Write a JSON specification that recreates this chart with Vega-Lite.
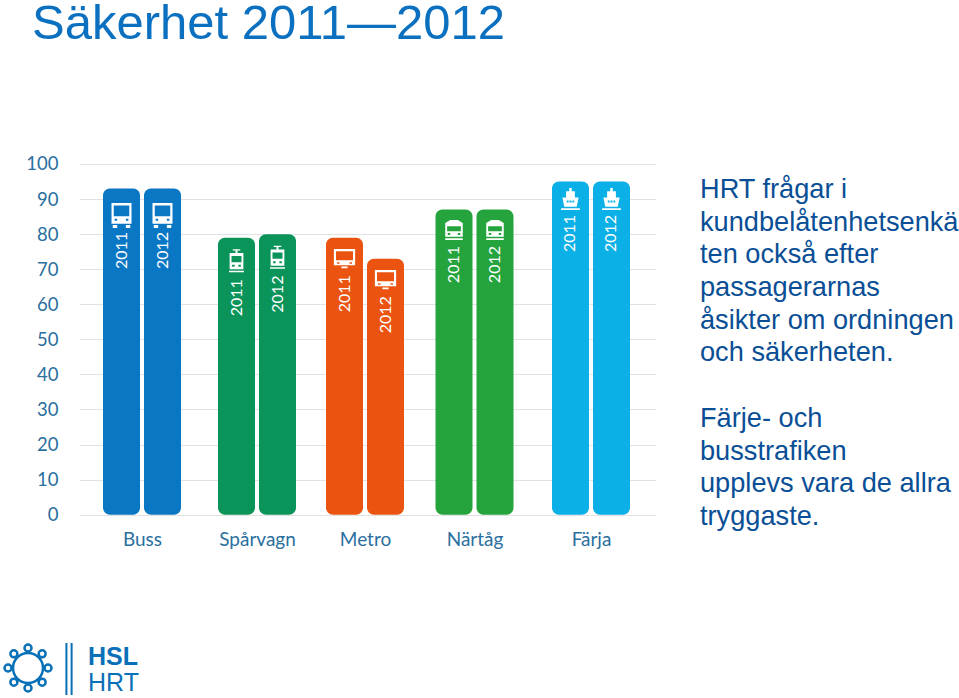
{
"$schema":"https://vega.github.io/schema/vega-lite/v6.json",
"width":576,"height":350.7,
"autosize":{"type":"none"},
"padding":{"left":80,"top":164,"right":303,"bottom":183},
"background":"white",
"title":{"text":"Säkerhet 2011—2012","anchor":"start","frame":"group","dx":-48,"offset":67,"baseline":"alphabetic","font":"Liberation Sans","fontSize":49,"fontWeight":"normal","color":"#0a70bf"},
"config":{"view":{"stroke":null}},
"data":{"values":[
{"trafikslag":"Buss","nr":1,"ar":"2011","andel":93},
{"trafikslag":"Buss","nr":1,"ar":"2012","andel":93},
{"trafikslag":"Spårvagn","nr":2,"ar":"2011","andel":79},
{"trafikslag":"Spårvagn","nr":2,"ar":"2012","andel":80},
{"trafikslag":"Metro","nr":3,"ar":"2011","andel":79},
{"trafikslag":"Metro","nr":3,"ar":"2012","andel":73},
{"trafikslag":"Närtåg","nr":4,"ar":"2011","andel":87},
{"trafikslag":"Närtåg","nr":4,"ar":"2012","andel":87},
{"trafikslag":"Färja","nr":5,"ar":"2011","andel":95},
{"trafikslag":"Färja","nr":5,"ar":"2012","andel":95}
]},
"encoding":{
"x":{"field":"nr","type":"quantitative","scale":{"domain":[0,1,2,3,4,5,6],"range":[0,62,177,285,394.5,511,576],"padding":0},"axis":{"values":[1,2,3,4,5],"title":null,"grid":false,"domain":false,"ticks":false,"labelPadding":16,"labelFont":"Lato","labelFontSize":19,"labelColor":"#2a6f9e","labelExpr":"['Buss','Spårvagn','Metro','Närtåg','Färja'][datum.value-1]"}},
"y":{"field":"andel","type":"quantitative","stack":null,"scale":{"domain":[0,100]},"axis":{"values":[0,10,20,30,40,50,60,70,80,90,100],"title":null,"domain":false,"ticks":false,"labelPadding":22,"labelFont":"Lato","labelFontSize":18.5,"labelColor":"#2a6f9e","grid":true,"gridColor":"#c4c4c4","gridDash":[1,1],"gridWidth":1}}
},
"layer":[
{"mark":{"type":"bar","size":37,"cornerRadius":7,"xOffset":{"expr":"datum.ar=='2011'?-20.5:20.5"}},
 "encoding":{"color":{"field":"trafikslag","type":"nominal","legend":null,"scale":{"domain":["Buss","Spårvagn","Metro","Närtåg","Färja"],"range":["#0a77c4","#0a9459","#ea5410","#25a33c","#0ab0e6"]}}}},
{"mark":{"type":"point","filled":true,"size":625,"opacity":1,"xOffset":{"expr":"datum.ar=='2011'?-20.5:20.5"},"yOffset":{"expr":"{'Buss':27,'Spårvagn':24,'Metro':22,'Närtåg':21,'Färja':19}[datum.trafikslag]"}},
 "encoding":{"color":{"value":"white"},
 "shape":{"field":"trafikslag","type":"nominal","legend":null,"scale":{"domain":["Buss","Spårvagn","Metro","Närtåg","Färja"],"range":[
 "M-.8 -1H.8V.65H-.8Z M-.62 -.8V.05H.62V-.8Z M-.55 .25V.42H-.35V.25Z M.35 .25V.42H.55V.25Z M-.7 .75H-.35V1H-.7Z M.35 .75H.7V1H.35Z",
 "M-.3 -1H.3V-.9H.08V-.7H.55V.6H-.55V-.7H-.08V-.9H-.3Z M-.4 -.45V.05H.4V-.45Z M-.35 .25V.4H-.15V.25Z M.15 .25V.4H.35V.25Z M-.6 .72H.6V.85H-.6Z",
 "M-.85 -.85H.85V.45H-.85Z M-.68 -.68V.05H.68V-.68Z M-.6 .2V.33H-.4V.2Z M.4 .2V.33H.6V.2Z M-.25 .55H.25V.68H-.25Z",
 "M-.3 -.85H.3L.7 -.6V.5H-.7V-.6Z M-.55 -.35V.05H.55V-.35Z M-.5 .2V.35H-.3V.2Z M.3 .2V.35H.5V.2Z M-.7 .62H.7V.75H-.7Z",
 "M-.1 -1H.1V-.75H.35V-.25H.65L.5 .5H-.5L-.65 -.25H-.35V-.75H-.1Z M-.3 0V.15H-.15V0Z M-.08 0V.15H.08V0Z M.15 0V.15H.3V0Z M-.75 .62H.75V.75H-.75Z"
 ]}}}},
{"mark":{"type":"text","angle":270,"align":"center","baseline":"middle","font":"Lato","fontSize":16,"color":"white","xOffset":{"expr":"datum.ar=='2011'?-20.5:20.5"},"yOffset":{"expr":"{'Buss':62,'Spårvagn':60,'Metro':56,'Närtåg':55,'Färja':52}[datum.trafikslag]"}},
 "encoding":{"text":{"field":"ar","type":"nominal"}}},
{"data":{"values":[{}]},
 "mark":{"type":"text","align":"left","baseline":"alphabetic","font":"Liberation Sans","fontSize":27.2,"lineHeight":32.7,"color":"#0a4f96"},
 "encoding":{"x":{"value":620},"y":{"value":34},
 "text":{"value":["HRT frågar i","kundbelåtenhetsenkä","ten också efter","passagerarnas","åsikter om ordningen","och säkerheten."]}}},
{"data":{"values":[{}]},
 "mark":{"type":"text","align":"left","baseline":"alphabetic","font":"Liberation Sans","fontSize":27.2,"lineHeight":32.7,"color":"#0a4f96"},
 "encoding":{"x":{"value":620},"y":{"value":263},
 "text":{"value":["Färje- och","busstrafiken","upplevs vara de allra","tryggaste."]}}},
{"data":{"values":[{}]},
 "mark":{"type":"point","filled":false,"strokeWidth":2.5,"opacity":1,"size":2500,"color":"#0a70b8","shape":"M.6 0A.6 .6 0 1 1 -.6 0A.6 .6 0 1 1 .6 0Z M.94 0A.14 .14 0 1 1 .66 0A.14 .14 0 1 1 .94 0Z M.706 .566A.14 .14 0 1 1 .426 .566A.14 .14 0 1 1 .706 .566Z M.14 .8A.14 .14 0 1 1 -.14 .8A.14 .14 0 1 1 .14 .8Z M-.426 .566A.14 .14 0 1 1 -.706 .566A.14 .14 0 1 1 -.426 .566Z M-.66 0A.14 .14 0 1 1 -.94 0A.14 .14 0 1 1 -.66 0Z M-.426 -.566A.14 .14 0 1 1 -.706 -.566A.14 .14 0 1 1 -.426 -.566Z M.14 -.8A.14 .14 0 1 1 -.14 -.8A.14 .14 0 1 1 .14 -.8Z M.706 -.566A.14 .14 0 1 1 .426 -.566A.14 .14 0 1 1 .706 -.566Z"},
 "encoding":{"x":{"value":-52},"y":{"value":504}}},
{"data":{"values":[{}]},
 "mark":{"type":"point","filled":false,"strokeWidth":2,"opacity":1,"size":2704,"color":"#0a70b8","shape":"M-.1 -1V1 M.1 -1V1"},
 "encoding":{"x":{"value":-11},"y":{"value":505}}},
{"data":{"values":[{}]},
 "mark":{"type":"text","align":"left","baseline":"alphabetic","font":"Liberation Sans","fontWeight":"bold","fontSize":25,"color":"#0a70b8"},
 "encoding":{"x":{"value":8},"y":{"value":501},"text":{"value":"HSL"}}},
{"data":{"values":[{}]},
 "mark":{"type":"text","align":"left","baseline":"alphabetic","font":"Liberation Sans","fontSize":25,"color":"#0a70b8"},
 "encoding":{"x":{"value":8},"y":{"value":527},"text":{"value":"HRT"}}}
]
}
